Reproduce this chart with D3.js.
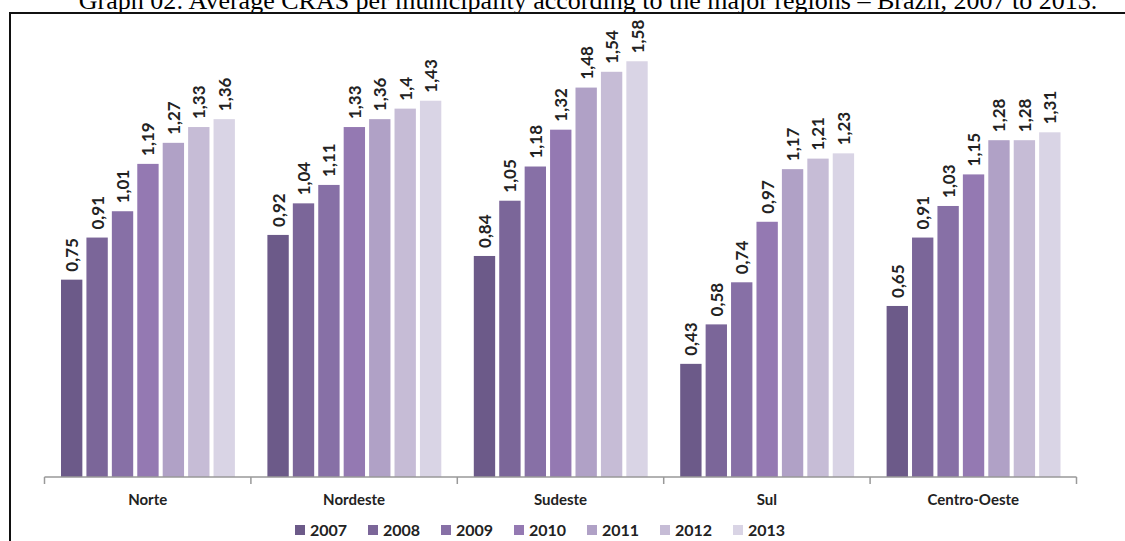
<!DOCTYPE html>
<html>
<head>
<meta charset="utf-8">
<script src="https://cdn.jsdelivr.net/npm/d3@7"></script>
<style>
  html, body { margin: 0; padding: 0; background: #fff; }
  svg { display: block; }
</style>
</head>
<body>
<svg id="chart" width="1125" height="541"></svg>
<script>
// Regions and yearly series (average CRAS per municipality)
const regions = ["Norte", "Nordeste", "Sudeste", "Sul", "Centro-Oeste"];
const years = ["2007", "2008", "2009", "2010", "2011", "2012", "2013"];
const v2007 = [0.75, 0.92, 0.84, 0.43, 0.65];
const v2008 = [0.91, 1.04, 1.05, 0.58, 0.91];
const v2009 = [1.01, 1.11, 1.18, 0.74, 1.03];
const v2010 = [1.19, 1.33, 1.32, 0.97, 1.15];
const v2011 = [1.27, 1.36, 1.48, 1.17, 1.28];
const v2012 = [1.33, 1.40, 1.54, 1.21, 1.28];
const v2013 = [1.36, 1.43, 1.58, 1.23, 1.31];
const seriesValues = [v2007, v2008, v2009, v2010, v2011, v2012, v2013];
const yearColors = ["#6c5a89", "#7b6699", "#8770a6", "#9479b2", "#b0a1c6", "#c6bcd6", "#d9d4e5"];
const titleText = "Graph 02: Average CRAS per municipality according to the major regions \u2013 Brazil, 2007 to 2013.";

const svg = d3.select("#chart");
const sans = "Lato, 'Open Sans', 'DejaVu Sans', sans-serif";

// Title (serif, sitting right at the top edge)
svg.append("text")
  .attr("x", 588).attr("y", 9)
  .attr("text-anchor", "middle")
  .attr("font-family", "'Liberation Serif', 'Times New Roman', serif")
  .attr("font-size", 26)
  .attr("fill", "#000")
  .text(titleText);

// Frame around the chart (right and bottom sides run off the page)
svg.append("path")
  .attr("d", "M10,541 V13 H1125")
  .attr("fill", "none")
  .attr("stroke", "#111")
  .attr("stroke-width", 2);

const x0 = d3.scaleBand().domain(regions).range([44.5, 1076.5]).paddingInner(0).paddingOuter(0);
const x1 = d3.scaleBand().domain(years).range([16.5, x0.bandwidth() - 16]).paddingInner(0.16).paddingOuter(0);
const y = d3.scaleLinear().domain([0, 1.6]).range([477, 56]);

const fmt = v => d3.format(".2f")(v).replace(/0$/, "").replace(".", ",");

// Bars
const groups = svg.append("g").selectAll("g")
  .data(regions)
  .join("g")
  .attr("transform", r => `translate(${x0(r)},0)`);

groups.selectAll("rect")
  .data((r, ri) => years.map((yr, yi) => ({ year: yr, yi, value: seriesValues[yi][ri] })))
  .join("rect")
  .attr("x", d => x1(d.year))
  .attr("y", d => y(d.value))
  .attr("width", x1.bandwidth())
  .attr("height", d => y(0) - y(d.value))
  .attr("fill", d => yearColors[d.yi]);

// Value labels, rotated
groups.selectAll("text")
  .data((r, ri) => years.map((yr, yi) => ({ year: yr, yi, value: seriesValues[yi][ri] })))
  .join("text")
  .attr("transform", d => `translate(${x1(d.year) + x1.bandwidth() / 2 + 6.5},${y(d.value) - 8}) rotate(-90)`)
  .attr("text-anchor", "start")
  .attr("font-family", sans)
  .attr("font-weight", "bold")
  .attr("font-size", 17)
  .attr("fill", "#222")
  .text(d => fmt(d.value));

// Category axis
const axis = svg.append("g")
  .attr("transform", `translate(0,${y(0)})`);
axis.append("line")
  .attr("x1", x0.range()[0]).attr("x2", x0.range()[1])
  .attr("stroke", "#999").attr("stroke-width", 1.5);
const edges = regions.map(r => x0(r)).concat([x0.range()[1]]);
axis.selectAll("line.tick")
  .data(edges)
  .join("line")
  .attr("class", "tick")
  .attr("x1", d => d).attr("x2", d => d)
  .attr("y1", 0).attr("y2", 7)
  .attr("stroke", "#999").attr("stroke-width", 1.5);
axis.selectAll("text")
  .data(regions)
  .join("text")
  .attr("x", r => x0(r) + x0.bandwidth() / 2)
  .attr("y", 28)
  .attr("text-anchor", "middle")
  .attr("font-family", sans)
  .attr("font-weight", "bold")
  .attr("font-size", 15)
  .attr("fill", "#222")
  .text(r => r);

// Legend
const legend = svg.append("g").attr("transform", "translate(295,525)");
const item = legend.selectAll("g")
  .data(years)
  .join("g")
  .attr("transform", (d, i) => `translate(${i * 73},0)`);
item.append("rect")
  .attr("x", 0).attr("y", 0).attr("width", 10).attr("height", 10)
  .attr("fill", (d, i) => yearColors[i]);
item.append("text")
  .attr("x", 15).attr("y", 11)
  .attr("font-family", sans)
  .attr("font-weight", "bold")
  .attr("font-size", 16)
  .attr("fill", "#222")
  .text(d => d);
</script>
</body>
</html>
